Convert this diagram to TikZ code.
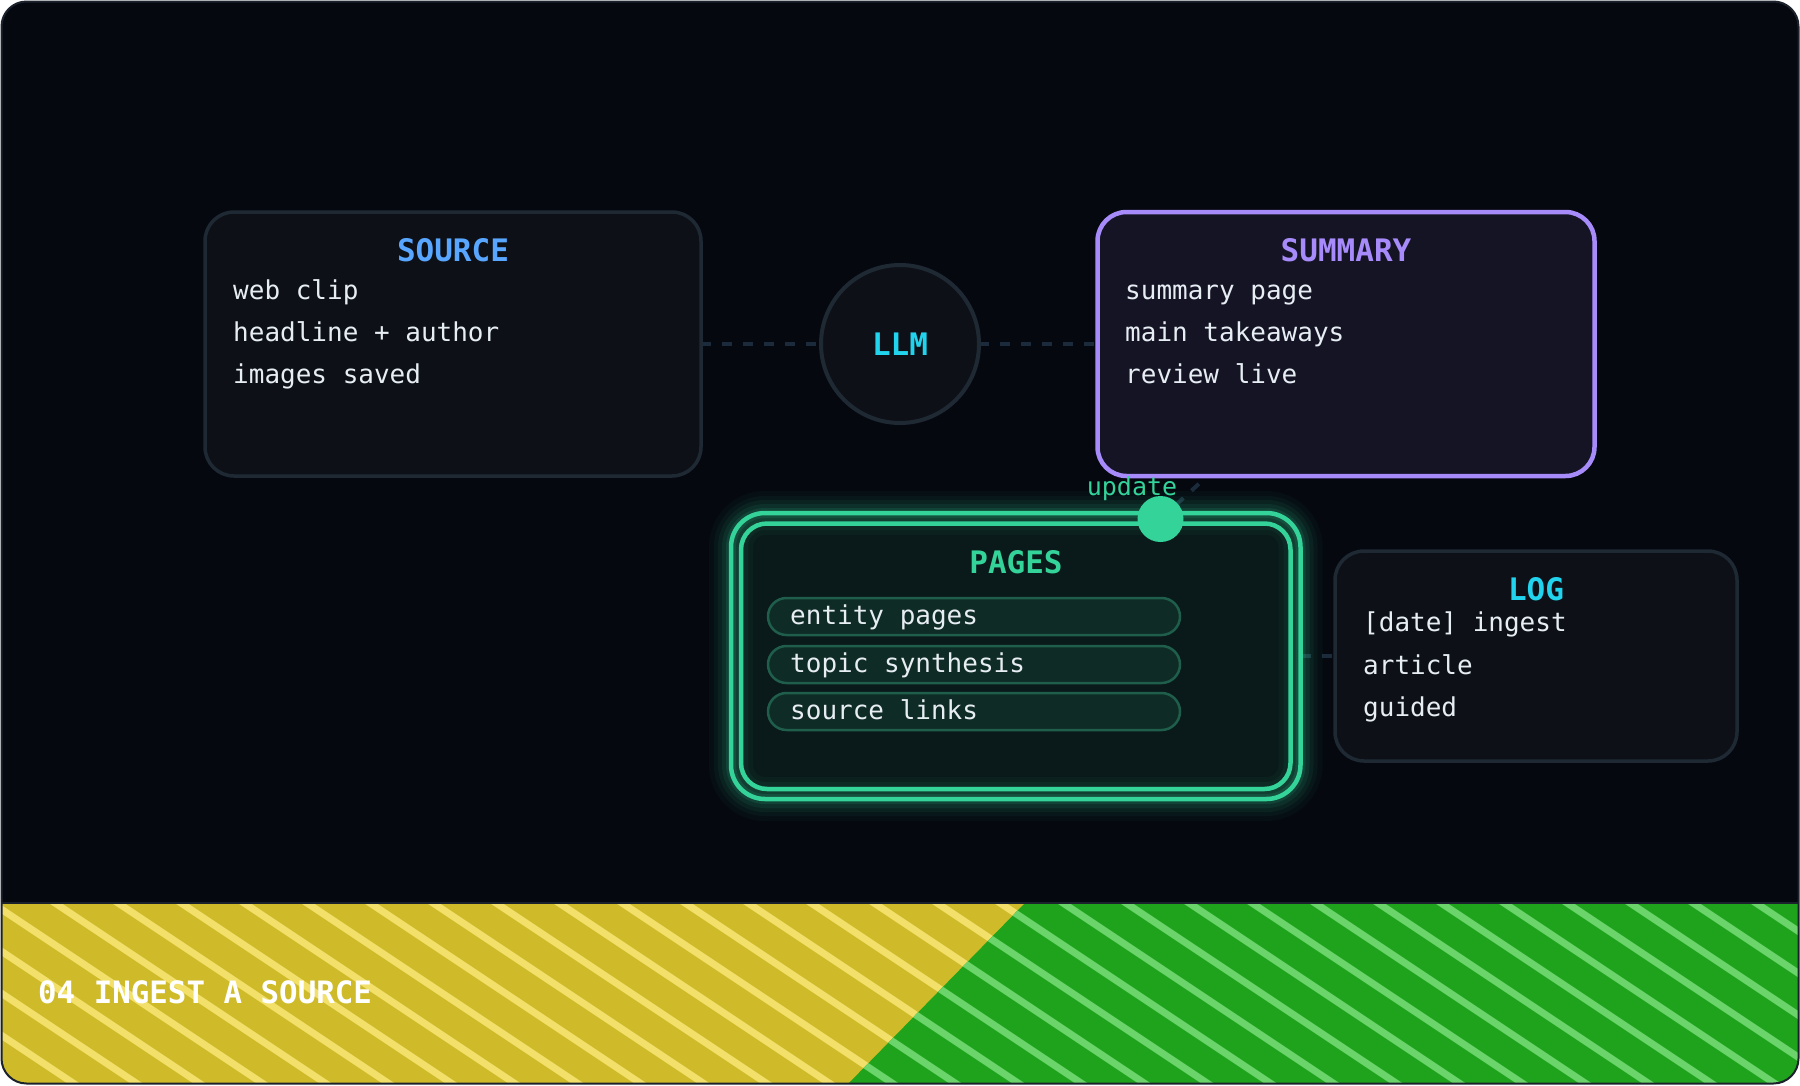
\documentclass[tikz,border=0pt]{standalone}
\usepackage{fontspec}
\setmonofont{DejaVu Sans Mono}
\usetikzlibrary{backgrounds}
\definecolor{bgc}{HTML}{05080F}
\definecolor{framec}{HTML}{1C222C}
\definecolor{boxfill}{HTML}{0D1117}
\definecolor{boxline}{HTML}{1F2933}
\definecolor{sumfill}{HTML}{151425}
\definecolor{purp}{HTML}{A78BFA}
\definecolor{blu}{HTML}{58A6FF}
\definecolor{cyn}{HTML}{22D3EE}
\definecolor{grn}{HTML}{34D399}
\definecolor{pgfill}{HTML}{0A1A1A}
\definecolor{pillfill}{HTML}{0F2B25}
\definecolor{pillline}{HTML}{1E5E4B}
\definecolor{txt}{HTML}{E6EDF3}
\definecolor{dashc}{HTML}{1B2B3C}
\definecolor{yel}{HTML}{CFBB29}
\definecolor{yels}{HTML}{F2E06A}
\definecolor{bandg}{HTML}{1FA31D}
\definecolor{bandgs}{HTML}{6BD56B}
\begin{document}
\begin{tikzpicture}[x=1pt,y=-1pt,
  box/.style={draw=boxline, fill=boxfill, line width=3.5, rounded corners=29, inner sep=0, outer sep=0},
  sumbox/.style={draw=purp, fill=sumfill, line width=4.5, rounded corners=29, inner sep=0, outer sep=0},
  title/.style={font=\ttfamily\bfseries\fontsize{31}{36}\selectfont, inner sep=0, anchor=base},
  body/.style={font=\ttfamily\fontsize{26}{30}\selectfont, text=txt, inner sep=0, anchor=base west},
  pill/.style={draw=pillline, fill=pillfill, line width=2.5, rounded corners=18.5, minimum width=412, minimum height=37, inner sep=0},
  conn/.style={draw=dashc, line width=4, dash pattern=on 10pt off 11pt},
  pageline/.style={draw=grn, line width=4.5}
]
\useasboundingbox (0,0) rectangle (1800,1085);
\begin{scope}[on background layer]
  \fill[bgc, rounded corners=25] (1.5,1.5) rectangle (1798.5,1083.5);
\end{scope}
% band
\begin{scope}
  \clip[rounded corners=25] (1.5,1.5) rectangle (1798.5,1083.5);
  \fill[yel] (0,903) rectangle (1800,1085);
  \begin{scope}
    \clip (0,903) -- (1025,903) -- (847,1085) -- (0,1085) -- cycle;
    \foreach \k in {-9,...,18} \draw[yels, line width=7] ({307+63*\k-30},883) -- ++(330,220);
  \end{scope}
  \fill[bandg] (1025,903) -- (1800,903) -- (1800,1085) -- (847,1085) -- cycle;
  \begin{scope}
    \clip (1025,903) -- (1800,903) -- (1800,1085) -- (847,1085) -- cycle;
    \foreach \k in {4,...,28} \draw[bandgs, line width=7] ({307+63*\k-30},883) -- ++(330,220);
  \end{scope}
  \draw[framec, line width=2] (0,903) -- (1800,903);
\end{scope}
\draw[framec, line width=2, rounded corners=25] (1.5,1.5) rectangle (1798.5,1083.5);

% boxes
\node[box, minimum width=496, minimum height=264] (src) at (453,344) {};
\node[title, text=blu] (srct) at (453,261) {SOURCE};
\node[body] (src1) at (233,299) {web clip};
\node[body] (src2) at (233,341) {headline + author};
\node[body] (src3) at (233,383) {images saved};

\node[circle, draw=boxline, fill=boxfill, line width=4, minimum size=158, inner sep=0, outer sep=0] (llm) at (900,344) {};
\node[title, text=cyn] (llmt) at (900,355.5) {LLM};

\node[sumbox, minimum width=497, minimum height=264] (sum) at (1346,344) {};
\node[title, text=purp] (sumt) at (1346,261) {SUMMARY};
\node[body] (sum1) at (1125,299) {summary page};
\node[body] (sum2) at (1125,341) {main takeaways};
\node[body] (sum3) at (1125,383) {review live};

\node[box, minimum width=402, minimum height=210] (log) at (1536,656) {};
\node[title, text=cyn] (logt) at (1536,600) {LOG};
\node[body] (log1) at (1363,631) {[date] ingest};
\node[body] (log2) at (1363,674) {article};
\node[body] (log3) at (1363,716) {guided};

% pages with glow
\fill[pgfill, rounded corners=34] (731,513) rectangle (1300.5,799);
\foreach \w/\o in {44/0.04, 34/0.05, 26/0.06, 18/0.08, 10/0.12} {
  \draw[grn, line width=\w, opacity=\o, rounded corners=34] (731,513) rectangle (1300.5,799);
}
\node[pageline, rounded corners=34, minimum width=569.5, minimum height=286, inner sep=0, outer sep=0] (pages) at (1015.75,656) {};
\node[pageline, rounded corners=26, minimum width=549.5, minimum height=265.5, inner sep=0, outer sep=0] (pagesin) at (1015.75,656.25) {};
\node[title, text=grn] (pagest) at (1016,573) {PAGES};
\node[pill] (p1) at (974,616.5) {};
\node[pill] (p2) at (974,664.5) {};
\node[pill] (p3) at (974,711.5) {};
\node[body] (p1t) at (790,624) {entity pages};
\node[body] (p2t) at (790,672) {topic synthesis};
\node[body] (p3t) at (790,719) {source links};

\node[circle, fill=grn, minimum size=46, inner sep=0] (dot) at (1160.5,519) {};
\node[font=\ttfamily\fontsize{25}{30}\selectfont, text=grn, inner sep=0, anchor=base] (upd) at (1132,495) {update};

\coordinate (sumin) at (1214,470);
\begin{scope}[on background layer]
  \draw[conn] (src.east) -- (llm.west);
  \draw[conn] (llm.east) -- (sum.west);
  \draw[conn] (dot.center) -- (sumin);
  \draw[conn] (pages.east) -- (log.west);
\end{scope}

% footer label
\node[font=\ttfamily\bfseries\fontsize{30.8}{36}\selectfont, text=white, inner sep=0, anchor=base west] (lbl) at (38,1003) {04 INGEST A SOURCE};
\end{tikzpicture}
\end{document}
